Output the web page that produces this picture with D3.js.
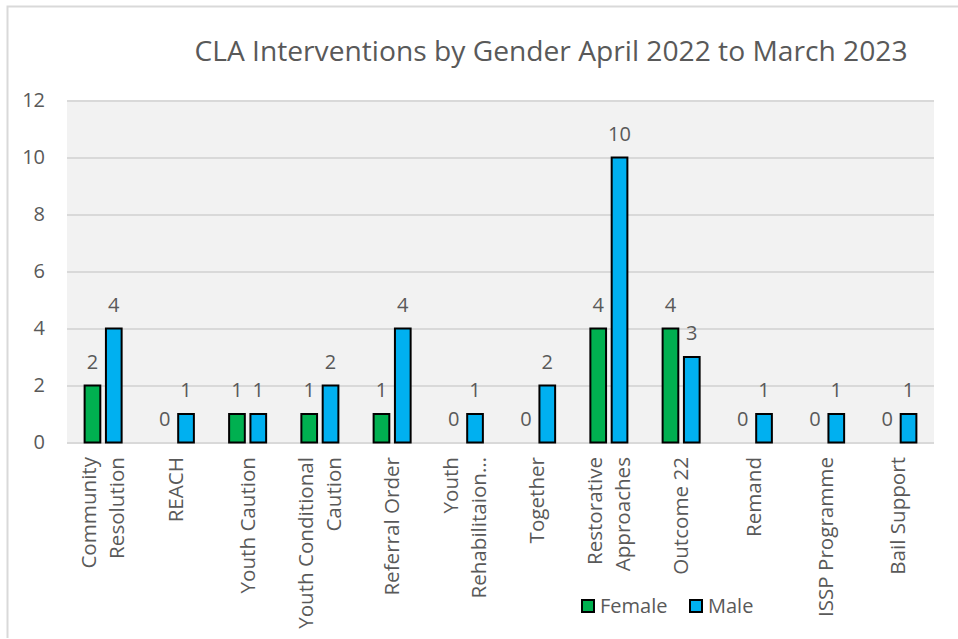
<!DOCTYPE html>
<html>
<head>
<meta charset="utf-8">
<script src="https://cdn.jsdelivr.net/npm/d3@7/dist/d3.min.js"></script>
<style>
  html, body { margin: 0; padding: 0; background: #ffffff; }
  svg { display: block; font-family: "Open Sans", sans-serif; }
</style>
</head>
<body>
<svg id="chart" width="958" height="639"></svg>
<script>
const title = "CLA Interventions by Gender April 2022 to March 2023";
const categories = ["Community Resolution", "REACH", "Youth Caution", "Youth Conditional Caution",
  "Referral Order", "Youth Rehabilitaion…", "Together", "Restorative Approaches",
  "Outcome 22", "Remand", "ISSP Programme", "Bail Support"];
const categoryLines = [["Community", "Resolution"], ["REACH"], ["Youth Caution"], ["Youth Conditional", "Caution"],
  ["Referral Order"], ["Youth", "Rehabilitaion…"], ["Together"], ["Restorative", "Approaches"],
  ["Outcome 22"], ["Remand"], ["ISSP Programme"], ["Bail Support"]];
const seriesNames = ["Female", "Male"];
const female = [2, 0, 1, 1, 1, 0, 0, 4, 4, 0, 0, 0];
const male   = [4, 1, 1, 2, 4, 1, 2, 10, 3, 1, 1, 1];
const yTicks = [0, 2, 4, 6, 8, 10, 12];
const colors = ["#00b050", "#00b0f0"];

const svg = d3.select("#chart");
const textColor = "#595959";
const plot = { left: 67, right: 934, top: 100.5, bottom: 442.5 };

// outer border (chart area)
svg.append("path")
  .attr("d", "M7.5,638 L7.5,6.5 L958,6.5")
  .attr("fill", "none").attr("stroke", "#d9d9d9").attr("stroke-width", 2);

// plot background
svg.append("rect")
  .attr("x", plot.left).attr("y", plot.top)
  .attr("width", plot.right - plot.left).attr("height", plot.bottom - plot.top)
  .attr("fill", "#f2f2f2");

const y = d3.scaleLinear().domain([0, 12]).range([plot.bottom, plot.top]);
const x0 = d3.scaleBand().domain(categories).range([plot.left, plot.right])
  .paddingInner(0.46).paddingOuter(0.23);
const x1 = d3.scaleBand().domain(seriesNames).range([0, x0.bandwidth()]).paddingInner(0.17);

// gridlines + y labels via axis
const yAxis = d3.axisLeft(y).tickValues(yTicks)
  .tickSize(-(plot.right - plot.left)).tickPadding(22).tickFormat(d3.format("d"));
const gy = svg.append("g").attr("transform", `translate(${plot.left},0)`).call(yAxis);
gy.select(".domain").remove();
gy.selectAll(".tick line").attr("stroke", "#d9d9d9").attr("stroke-width", 2);
gy.selectAll(".tick text").attr("fill", textColor).style("font-size", "20px")
  .style("font-family", "'Open Sans', sans-serif");

// title
svg.append("text")
  .attr("x", 551).attr("y", 61)
  .attr("text-anchor", "middle")
  .attr("fill", textColor)
  .style("font-size", "28.2px")
  .text(title);

// bars
const data = categories.map((c, i) => ({ cat: c, values: [
  { s: "Female", v: female[i], color: colors[0] },
  { s: "Male", v: male[i], color: colors[1] }] }));

const groups = svg.append("g").selectAll("g").data(data).join("g")
  .attr("transform", d => `translate(${x0(d.cat)},0)`);

groups.selectAll("rect").data(d => d.values.filter(e => e.v > 0)).join("rect")
  .attr("x", e => x1(e.s) + 1)
  .attr("width", x1.bandwidth() - 2)
  .attr("y", e => y(e.v))
  .attr("height", e => y(0) - y(e.v))
  .attr("fill", e => e.color)
  .attr("stroke", "#000").attr("stroke-width", 2);

groups.selectAll("text.val").data(d => d.values).join("text")
  .attr("class", "val")
  .attr("x", e => x1(e.s) + x1.bandwidth() / 2)
  .attr("y", e => y(e.v) - 17)
  .attr("text-anchor", "middle")
  .attr("fill", textColor)
  .style("font-size", "20px")
  .text(e => e.v);

// category labels (rotated, multi-line)
const lineGap = 28;
const labels = svg.append("g").selectAll("g").data(categories).join("g")
  .attr("transform", c => `translate(${x0(c) + x0.bandwidth() / 2},457) rotate(-90)`);
labels.each(function(c, i) {
  const lines = categoryLines[i];
  const n = lines.length;
  d3.select(this).selectAll("text").data(lines).join("text")
    .attr("x", 0)
    .attr("y", (l, j) => (j - (n - 1) / 2) * lineGap)
    .attr("dy", "0.35em")
    .attr("text-anchor", "end")
    .attr("fill", textColor)
    .style("font-size", "20.6px")
    .text(l => l);
});

// legend
const legend = svg.append("g").attr("transform", "translate(581,599)");
const items = legend.selectAll("g").data(seriesNames).join("g")
  .attr("transform", (d, i) => `translate(${i * 108},0)`);
items.append("rect").attr("x", 1).attr("y", 1).attr("width", 12).attr("height", 12)
  .attr("fill", (d, i) => colors[i]).attr("stroke", "#000").attr("stroke-width", 2);
items.append("text").attr("x", 19).attr("y", 7).attr("dy", "0.35em")
  .attr("fill", textColor).style("font-size", "20px").text(d => d);
</script>
</body>
</html>
